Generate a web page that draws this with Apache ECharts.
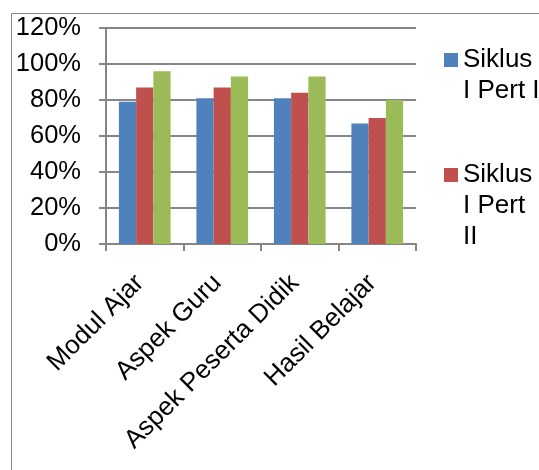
<!DOCTYPE html>
<html>
<head>
<meta charset="utf-8">
<script src="https://cdn.jsdelivr.net/npm/echarts@6/dist/echarts.min.js"></script>
<style>
html,body{margin:0;padding:0;background:#fff;}
#chart{width:539px;height:470px;}
</style>
</head>
<body>
<div id="chart"></div>
<script>
const categories = ['Modul Ajar', 'Aspek Guru', 'Aspek Peserta Didik', 'Hasil Belajar'];
const seriesNames = ['Siklus I Pert I', 'Siklus I Pert II', 'Siklus I Pert III'];
const legendLines = ['Siklus\nI Pert I', 'Siklus\nI Pert\nII'];
const pert1 = [79, 81, 81, 67];
const pert2 = [87, 87, 84, 70];
const pert3 = [96, 93, 93, 80];
const yMin = 0, yMax = 120, yStep = 20;
const colors = ['#4F81BD', '#C0504D', '#9BBB59'];

const font = 'Liberation Sans, Arial, sans-serif';
const grey = '#868686';
const LH = 31;

function legendFor(i, top) {
  const nLines = legendLines[i].split('\n').length;
  // leading empty lines so that the first text line sits level with the icon
  const text = '\n'.repeat(nLines - 1) + legendLines[i];
  return {
    show: true,
    orient: 'vertical',
    left: 444,
    top: top,
    padding: 0,
    itemWidth: 14,
    itemHeight: 14,
    itemGap: 0,
    itemTextGap: 5,
    icon: 'rect',
    selectedMode: false,
    data: [seriesNames[i]],
    formatter: () => text,
    textStyle: {
      fontFamily: font,
      fontSize: 26,
      color: '#000',
      lineHeight: LH
    }
  };
}

const chart = echarts.init(document.getElementById('chart'), null, {renderer: 'canvas'});
chart.setOption({
  animation: false,
  color: colors,
  graphic: [{
    type: 'rect',
    shape: {x: 11.5, y: 13.5, width: 700, height: 700},
    style: {fill: 'none', stroke: grey, lineWidth: 1},
    z: -10
  }],
  legend: [legendFor(0, 13.5), legendFor(1, 97.5)],
  grid: {left: 106, top: 28, right: 123, bottom: 226, containLabel: false},
  xAxis: {
    type: 'category',
    data: categories,
    boundaryGap: true,
    axisLine: {show: true, lineStyle: {color: grey, width: 2}},
    axisTick: {show: true, length: 7, alignWithLabel: false, lineStyle: {color: grey, width: 2}},
    axisLabel: {
      interval: 0,
      rotate: 45,
      margin: 30,
      padding: [21, 7, 0, 0],
      fontFamily: font,
      fontSize: 26,
      color: '#000'
    },
    splitLine: {show: false}
  },
  yAxis: {
    type: 'value',
    min: yMin,
    max: yMax,
    interval: yStep,
    axisLine: {show: true, lineStyle: {color: grey, width: 2}},
    axisTick: {show: true, length: 7, lineStyle: {color: grey, width: 2}},
    axisLabel: {
      formatter: '{value}%',
      margin: 25,
      fontFamily: font,
      fontSize: 25.5,
      color: '#000'
    },
    splitLine: {show: true, lineStyle: {color: grey, width: 2}}
  },
  series: [
    {name: seriesNames[0], type: 'bar', data: pert1, barGap: '0%', barCategoryGap: '33.3%'},
    {name: seriesNames[1], type: 'bar', data: pert2, barGap: '0%', barCategoryGap: '33.3%'},
    {name: seriesNames[2], type: 'bar', data: pert3, barGap: '0%', barCategoryGap: '33.3%'}
  ]
});
</script>
</body>
</html>
